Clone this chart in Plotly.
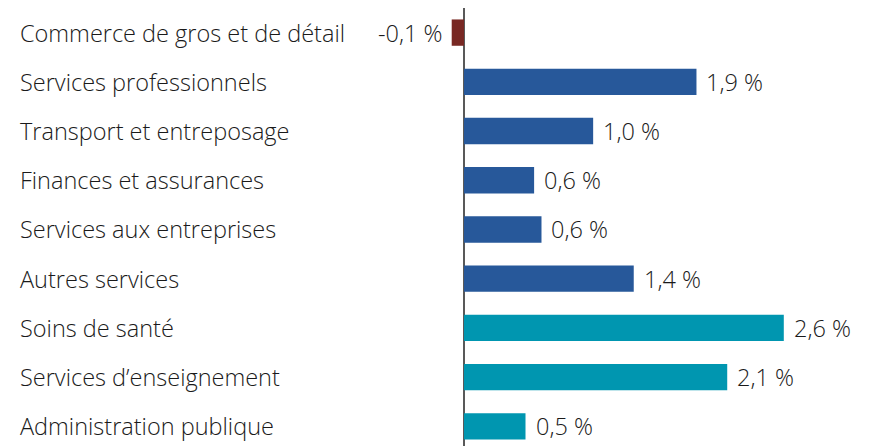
import plotly.graph_objects as go

categories = [
    "Commerce de gros et de détail",
    "Services professionnels",
    "Transport et entreposage",
    "Finances et assurances",
    "Services aux entreprises",
    "Autres services",
    "Soins de santé",
    "Services d’enseignement",
    "Administration publique",
]
values = [-0.10, 1.89, 1.05, 0.57, 0.63, 1.38, 2.60, 2.14, 0.50]
value_labels = ["-0,1 %", "1,9 %", "1,0 %", "0,6 %", "0,6 %", "1,4 %", "2,6 %", "2,1 %", "0,5 %"]
groups = ["neg", "biz", "biz", "biz", "biz", "biz", "pub", "pub", "pub"]

COLORS = {"neg": "#782823", "biz": "#27589A", "pub": "#0096B0"}
FONT = dict(family="'Open Sans', Lato, sans-serif", size=23.5, color="#1a1a1a", weight=300)

# page body has an 8px margin, so the figure is laid out 8px smaller
PAGE_OFF = 8
W, H = 873 - PAGE_OFF, 446 - PAGE_OFF
ZERO_PX = 464 - PAGE_OFF
PX_PER_UNIT = 123.0

x0 = -ZERO_PX / PX_PER_UNIT
x1 = (W - ZERO_PX) / PX_PER_UNIT

fig = go.Figure(
    go.Bar(
        x=values,
        y=list(range(len(categories))),
        orientation="h",
        marker=dict(color=[COLORS[g] for g in groups], line=dict(width=0)),
        hoverinfo="skip",
    )
)

# category names, left aligned
for i, name in enumerate(categories):
    fig.add_annotation(
        x=(20 - PAGE_OFF - 2) / W, xref="paper", y=i, yref="y", text=name,
        xanchor="left", yanchor="middle", showarrow=False, font=FONT,
    )

# value labels next to the bar ends
for i, (v, lab) in enumerate(zip(values, value_labels)):
    neg = v < 0
    fig.add_annotation(
        x=v, y=i, xref="x", yref="y", text=lab, showarrow=False,
        xanchor="right" if neg else "left", yanchor="middle",
        xshift=-7 if neg else 8, font=FONT,
    )

fig.update_layout(
    width=W,
    height=H,
    margin=dict(l=0, r=0, t=0, b=0),
    paper_bgcolor="white",
    plot_bgcolor="white",
    showlegend=False,
    bargap=0.465,
    xaxis=dict(
        range=[x0, x1], showgrid=False, showticklabels=False, ticks="",
        zeroline=True, zerolinecolor="#595959", zerolinewidth=2,
    ),
    yaxis=dict(
        range=[8.4, -0.5], showgrid=False, showticklabels=False, ticks="",
        zeroline=False,
    ),
)

fig.write_html("out.html")
